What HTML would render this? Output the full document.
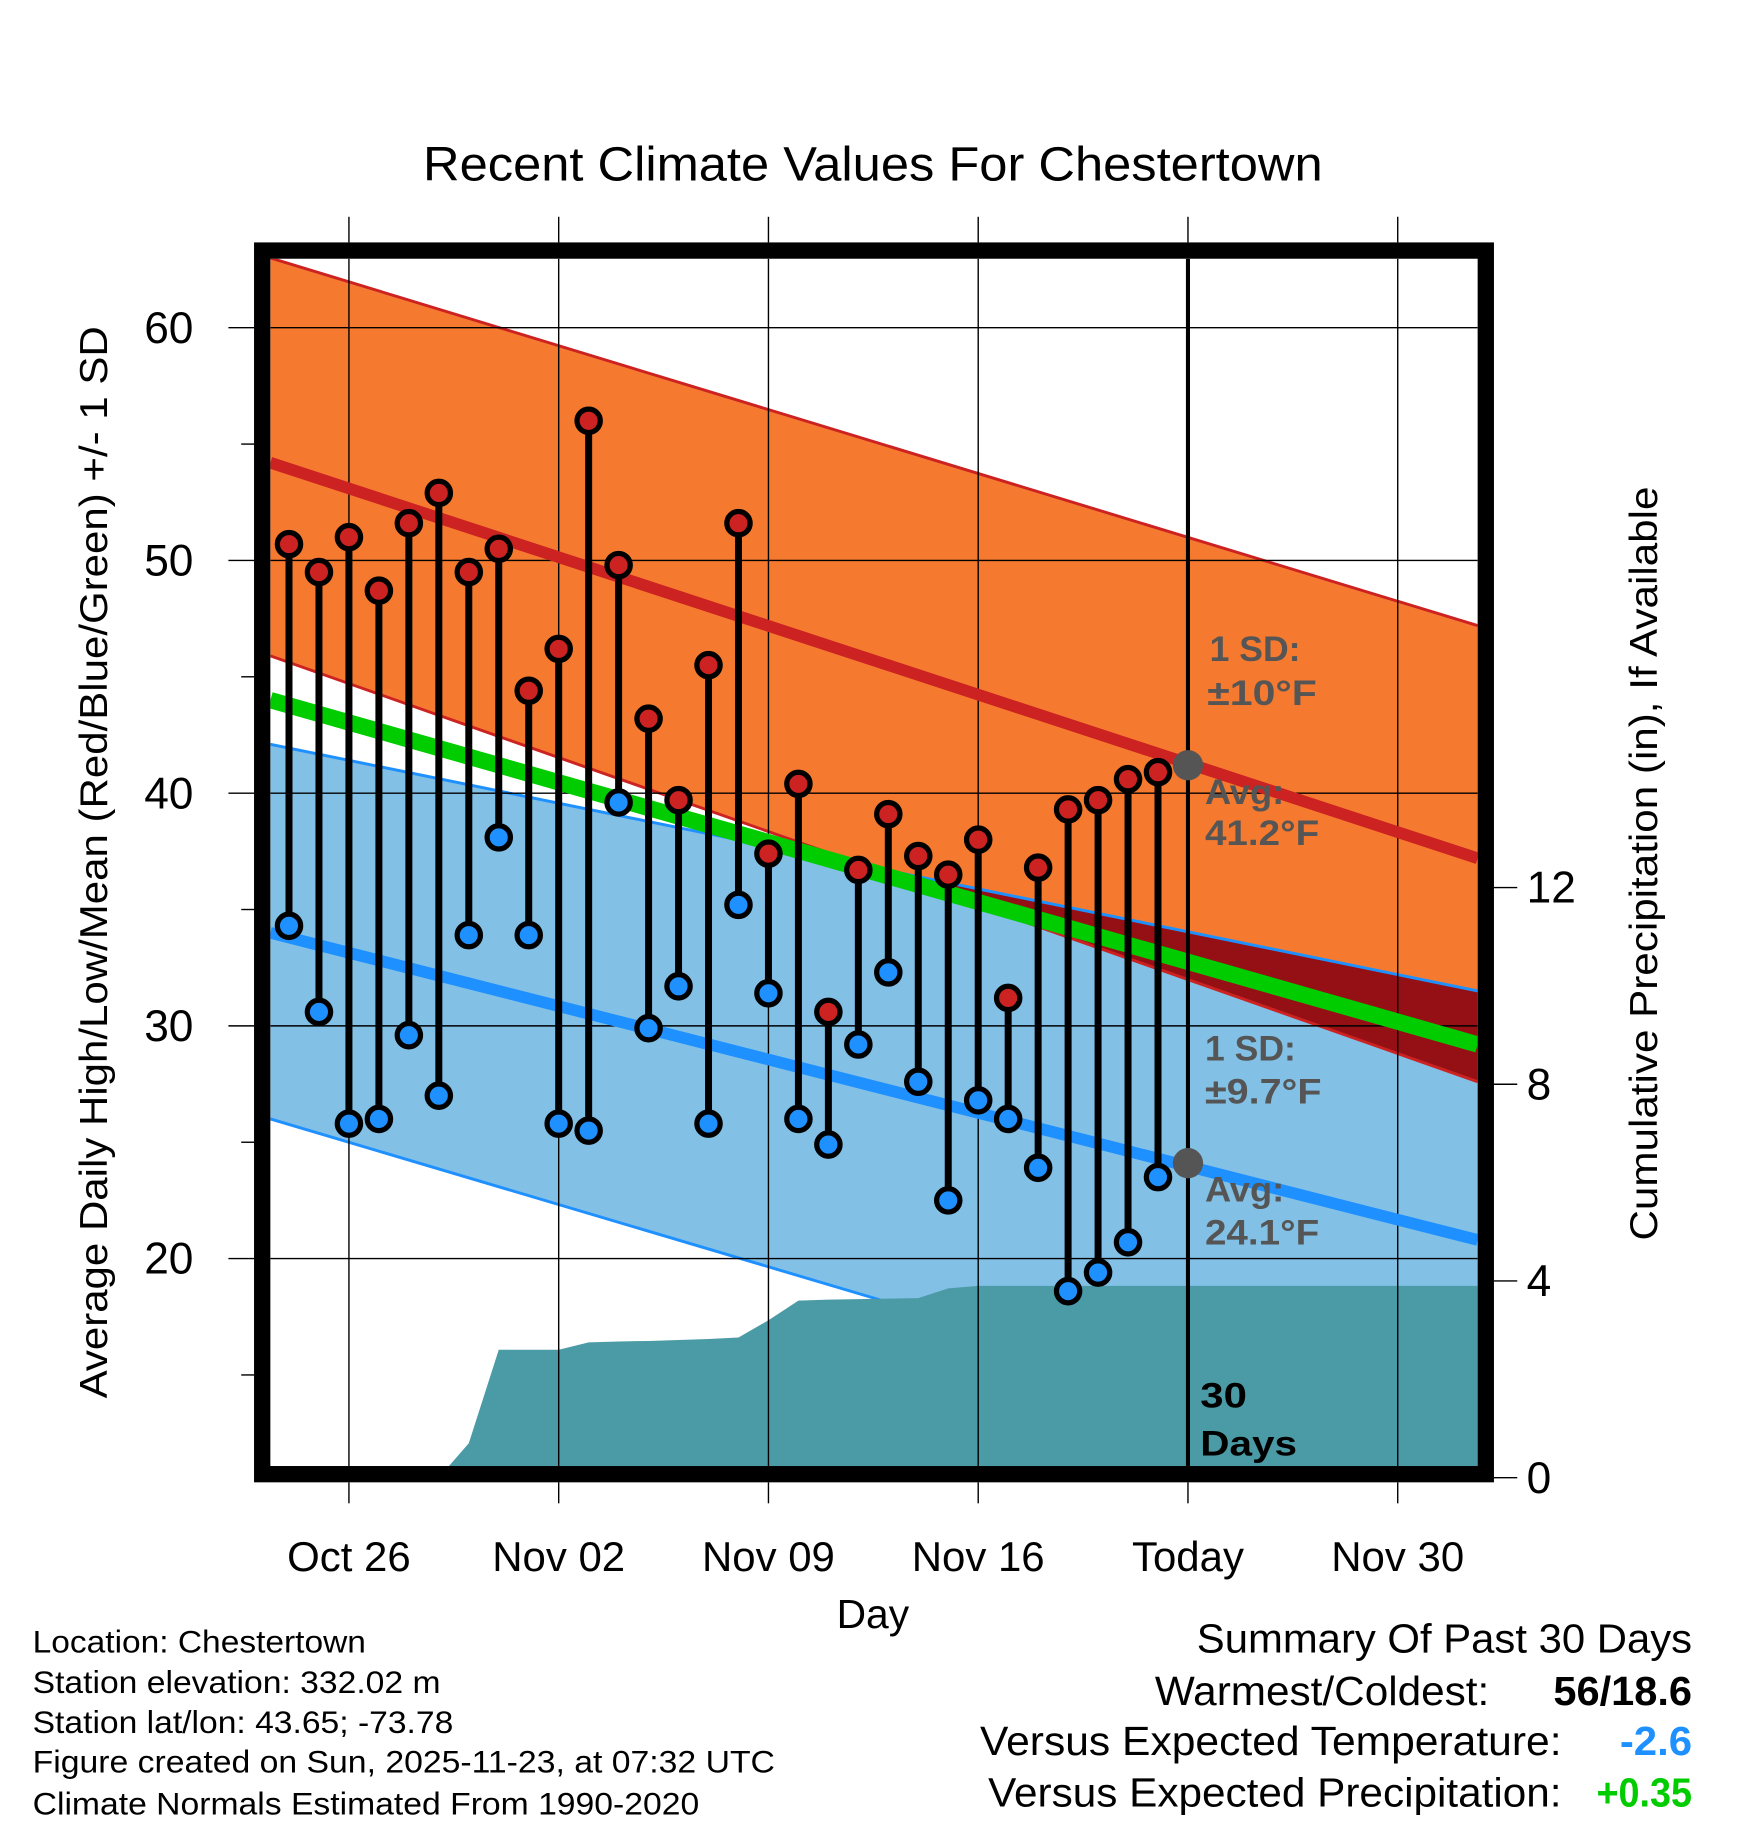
<!DOCTYPE html>
<html><head><meta charset="utf-8"><style>
html,body{margin:0;padding:0;background:#fff;}
svg{display:block;font-family:"Liberation Sans",Arial,sans-serif;}
</style></head><body>
<svg id="chart" width="1748" height="1828" viewBox="0 0 1500 1568.6" xmlns="http://www.w3.org/2000/svg">
<defs><clipPath id="plotclip"><rect x="232" y="222" width="1036" height="1036"/></clipPath></defs>
<rect width="1500" height="1568.6" fill="#fff"/>
<g id="plot" clip-path="url(#plotclip)"></g>
<g id="axes"></g>
<text x="749" y="155" font-size="41" text-anchor="middle" textLength="772" lengthAdjust="spacingAndGlyphs">Recent Climate Values For Chestertown</text>
<text transform="translate(92,740) rotate(-90)" font-size="33" text-anchor="middle" textLength="920" lengthAdjust="spacingAndGlyphs">Average Daily High/Low/Mean (Red/Blue/Green) +/- 1 SD</text>
<text transform="translate(1422,741) rotate(-90)" font-size="33" text-anchor="middle" textLength="647" lengthAdjust="spacingAndGlyphs">Cumulative Precipitation (in), If Available</text>
<text x="749" y="1397" font-size="35" text-anchor="middle">Day</text>
<g font-size="27">
<text x="28" y="1418" textLength="286" lengthAdjust="spacingAndGlyphs">Location: Chestertown</text>
<text x="28" y="1453" textLength="350" lengthAdjust="spacingAndGlyphs">Station elevation: 332.02 m</text>
<text x="28" y="1487" textLength="361" lengthAdjust="spacingAndGlyphs">Station lat/lon: 43.65; -73.78</text>
<text x="28" y="1521" textLength="637" lengthAdjust="spacingAndGlyphs">Figure created on Sun, 2025-11-23, at 07:32 UTC</text>
<text x="28" y="1557" textLength="572" lengthAdjust="spacingAndGlyphs">Climate Normals Estimated From 1990-2020</text>
</g>
<g font-size="35" text-anchor="end">
<text x="1452" y="1418" textLength="425" lengthAdjust="spacingAndGlyphs">Summary Of Past 30 Days</text>
<text x="1278" y="1463" textLength="287" lengthAdjust="spacingAndGlyphs">Warmest/Coldest:</text>
<text x="1452" y="1463" font-weight="bold" textLength="119" lengthAdjust="spacingAndGlyphs">56/18.6</text>
<text x="1340" y="1506" textLength="499" lengthAdjust="spacingAndGlyphs">Versus Expected Temperature:</text>
<text x="1452" y="1506" font-weight="bold" fill="#1e90ff" textLength="62" lengthAdjust="spacingAndGlyphs">-2.6</text>
<text x="1340" y="1550" textLength="492" lengthAdjust="spacingAndGlyphs">Versus Expected Precipitation:</text>
<text x="1452" y="1550" font-weight="bold" fill="#00cc00" textLength="82" lengthAdjust="spacingAndGlyphs">+0.35</text>
</g>
</svg>
<script>
const highs=[50.7,49.5,51.0,48.7,51.6,52.9,49.5,50.5,44.4,46.2,56.0,49.8,43.2,39.7,45.5,51.6,37.4,40.4,30.6,36.7,39.1,37.3,36.5,38.0,31.2,36.8,39.3,39.7,40.6,40.9];
const lows=[34.3,30.6,25.8,26.0,29.6,27.0,33.9,38.1,33.9,25.8,25.5,39.6,29.9,31.7,25.8,35.2,31.4,26.0,24.9,29.2,32.3,27.6,22.5,26.8,26.0,23.9,18.6,19.4,20.7,23.5];
const precip=[0,0,0,0,0,0,0.7,2.6,2.6,2.6,2.75,2.77,2.78,2.8,2.82,2.85,3.2,3.6,3.62,3.63,3.64,3.65,3.85,3.9,3.9,3.9,3.9,3.9,3.9,3.9];
const normHigh=[54.2,37.2], normHighUp=[8.8,10.0], normHighDn=[8.3,9.6];
const normLow=[34.0,20.8], normLowUp=[8.1,10.7], normLowDn=[8.0,10.2];
const normMean=[44.0,29.2];
const xTickLabels=["Oct 26","Nov 02","Nov 09","Nov 16","Today","Nov 30"];
const xTickDays=[2,9,16,23,30,37];
const yTicks=[20,30,40,50,60];
const pTicks=[0,4,8,12];
const todayHigh=41.2, todayLow=24.1, todayDay=30;

const NS="http://www.w3.org/2000/svg";
const X=d=>248+d*25.714;
const Y=t=>1080-(t-20)*19.97;
const P=v=>1268-v*42.2;
const X0=232,X1=1268;
function mk(tag,attrs,parent){const e=document.createElementNS(NS,tag);for(const k in attrs)e.setAttribute(k,attrs[k]);parent.appendChild(e);return e;}
const plot=document.getElementById('plot'),axes=document.getElementById('axes');
function bandPts(c,sd,sign){return [[X0,Y(c[0]+sign*sd[0])],[X1,Y(c[1]+sign*sd[1])]];}
let hu=bandPts(normHigh,normHighUp,1),hl=bandPts(normHigh,normHighDn,-1);
let lu=bandPts(normLow,normLowUp,1),ll=bandPts(normLow,normLowDn,-1);
const poly=(a,b)=>[...a,...b.slice().reverse()].map(p=>p.join(',')).join(' ');
let e;
e=mk('polygon',{points:poly(hu,hl),fill:'#f57a2f'},plot);


e=mk('polygon',{points:poly(lu,ll),fill:'#82c0e6'},plot);


const cp=mk('clipPath',{id:'lowclip'},document.querySelector('defs'));
mk('polygon',{points:poly(lu,ll)},cp);
e=mk('polygon',{points:poly(hu,hl),fill:'#951014','clip-path':'url(#lowclip)'},plot);


[[hu,'#cc2222'],[hl,'#cc2222'],[lu,'#1e90ff'],[ll,'#1e90ff']].forEach(([l,c])=>{
 e=mk('line',{x1:l[0][0],y1:l[0][1],x2:l[1][0],y2:l[1][1],stroke:c,'stroke-width':2.5},plot);
 
 
});
let pp=[[X0,P(0)]];
precip.forEach((v,i)=>pp.push([X(i),P(v)]));
pp.push([X1,P(precip[precip.length-1])],[X1,P(0)]);
e=mk('polygon',{points:pp.map(p=>p.join(',')).join(' '),fill:'#4a9ba5'},plot);


xTickDays.forEach(d=>{e=mk('line',{x1:X(d),y1:222,x2:X(d),y2:1258,stroke:'#000','stroke-width':1.2},plot);
 
 });
yTicks.forEach(t=>{e=mk('line',{x1:232,y1:Y(t),x2:1268,y2:Y(t),stroke:'#000','stroke-width':1.2},plot);
 
 });
e=mk('line',{x1:X0,y1:Y(normMean[0]),x2:X1,y2:Y(normMean[1]),stroke:'#00cc00','stroke-width':14},plot);


e=mk('line',{x1:X0,y1:Y(normHigh[0]),x2:X1,y2:Y(normHigh[1]),stroke:'#cc2222','stroke-width':10},plot);


e=mk('line',{x1:X0,y1:Y(normLow[0]),x2:X1,y2:Y(normLow[1]),stroke:'#1e90ff','stroke-width':10},plot);


e=mk('line',{x1:X(todayDay),y1:222,x2:X(todayDay),y2:1258,stroke:'#000','stroke-width':3.5},plot);


highs.forEach((h,i)=>{
 e=mk('line',{x1:X(i),y1:Y(h),x2:X(i),y2:Y(lows[i]),stroke:'#000','stroke-width':6},plot);
 
 
});
highs.forEach((h,i)=>{
 e=mk('circle',{cx:X(i),cy:Y(h),r:10,fill:'#cc2222',stroke:'#000','stroke-width':4.5},plot);
 
 
 e=mk('circle',{cx:X(i),cy:Y(lows[i]),r:10,fill:'#1e90ff',stroke:'#000','stroke-width':4.5},plot);
 
 
});
e=mk('circle',{cx:X(todayDay),cy:Y(todayHigh),r:13,fill:'#555'},plot);


e=mk('circle',{cx:X(todayDay),cy:Y(todayLow),r:13,fill:'#555'},plot);


const ann=[[1038,567,'1 SD:','#555',78],[1036,605,'±10°F','#555',94],[1034,690,'Avg:','#555',68],[1034,725,'41.2°F','#555',98],
 [1034,910,'1 SD:','#555',78],[1034,947,'±9.7°F','#555',100],[1034,1031,'Avg:','#555',68],[1034,1068,'24.1°F','#555',98],
 [1030,1208,'30','#000',40],[1030,1249,'Days','#000',83]];
ann.forEach(a=>{e=mk('text',{x:a[0],y:a[1],'font-size':30,'font-weight':'bold',fill:a[3],textLength:a[4],lengthAdjust:'spacingAndGlyphs'},plot);e.textContent=a[2];
 
 });
e=mk('rect',{x:225,y:215,width:1050,height:1050,fill:'none',stroke:'#000','stroke-width':14},axes);


xTickDays.forEach((d,i)=>{
 mk('line',{x1:X(d),y1:186,x2:X(d),y2:208,stroke:'#000','stroke-width':1.2},axes);
 mk('line',{x1:X(d),y1:1272,x2:X(d),y2:1290,stroke:'#000','stroke-width':1.2},axes);
 e=mk('text',{x:X(d),y:1348,'font-size':36,'text-anchor':'middle'},axes);e.textContent=xTickLabels[i];
 
 
});
for(let t=15;t<=60;t+=5){mk('line',{x1:t%10?207:196,y1:Y(t),x2:218,y2:Y(t),stroke:'#000','stroke-width':1.2},axes);}
yTicks.forEach(t=>{e=mk('text',{x:166,y:Y(t)+13,'font-size':38,'text-anchor':'end'},axes);e.textContent=t;
 
 });
pTicks.forEach(v=>{mk('line',{x1:1282,y1:P(v),x2:1302,y2:P(v),stroke:'#000','stroke-width':1.2},axes);
 e=mk('text',{x:1310,y:P(v)+13,'font-size':38},axes);e.textContent=v;
 
 });
</script>
</body></html>
